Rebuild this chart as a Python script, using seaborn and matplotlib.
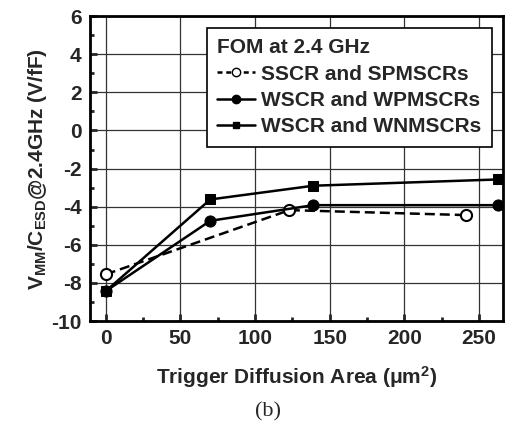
import matplotlib
matplotlib.use("Agg")
import matplotlib.pyplot as plt
import seaborn as sns
import pandas as pd
from matplotlib.ticker import MultipleLocator
from matplotlib.lines import Line2D

sns.set_theme(style="ticks")
plt.rcParams['font.family'] = ['Liberation Sans', 'DejaVu Sans']
plt.rcParams['font.weight'] = 'bold'
plt.rcParams['axes.unicode_minus'] = False
plt.rcParams['mathtext.fontset'] = 'custom'
plt.rcParams['mathtext.rm'] = 'Liberation Sans:bold'
plt.rcParams['mathtext.it'] = 'Liberation Sans:bold'
plt.rcParams['mathtext.bf'] = 'Liberation Sans:bold'
plt.rcParams['mathtext.default'] = 'rm'

# Data
ss_x = [0, 123, 241]
ss_y = [-7.55, -4.18, -4.44]
wp_x = [0, 70, 139, 263]
wp_y = [-8.43, -4.74, -3.92, -3.92]
wn_x = [0, 70, 139, 263]
wn_y = [-8.43, -3.62, -2.9, -2.57]
labels = ["SSCR and SPMSCRs", "WSCR and WPMSCRs", "WSCR and WNMSCRs"]

fig = plt.figure(figsize=(5.06, 4.23), dpi=100)
ax = fig.add_axes([0.178, 0.241, 0.816, 0.721])

df_ss = pd.DataFrame({"x": ss_x, "y": ss_y})
df_wp = pd.DataFrame({"x": wp_x, "y": wp_y})
df_wn = pd.DataFrame({"x": wn_x, "y": wn_y})

sns.lineplot(data=df_ss, x="x", y="y", ax=ax, color="black", lw=1.8,
             linestyle=(0, (4, 2)), marker="o", markersize=8,
             markerfacecolor="white", markeredgecolor="black", markeredgewidth=1.5,
             sort=False, zorder=3)
sns.lineplot(data=df_wp, x="x", y="y", ax=ax, color="black", lw=1.8,
             marker="o", markersize=8, markerfacecolor="black",
             markeredgecolor="black", sort=False, zorder=4)
sns.lineplot(data=df_wn, x="x", y="y", ax=ax, color="black", lw=1.8,
             marker="s", markersize=7, markerfacecolor="black",
             markeredgecolor="black", sort=False, zorder=4)

ax.set_xlim(-10.5, 266)
ax.set_ylim(-10, 6)
ax.xaxis.set_major_locator(MultipleLocator(50))
ax.xaxis.set_minor_locator(MultipleLocator(25))
ax.yaxis.set_major_locator(MultipleLocator(2))
ax.yaxis.set_minor_locator(MultipleLocator(1))
ax.grid(True, which="major", color="#333333", lw=0.9)
ax.tick_params(which="major", direction="in", length=5, width=2,
               labelsize=15, top=False, right=False, pad=6)
ax.tick_params(which="minor", direction="in", length=3, width=2,
               top=False, right=False)
for lab in ax.get_xticklabels() + ax.get_yticklabels():
    lab.set_fontweight("bold")
for s in ax.spines.values():
    s.set_linewidth(2)
    s.set_color("black")

ax.set_xlabel("Trigger Diffusion Area (μm$^{2}$)", fontsize=15, fontweight="bold", labelpad=11)
ax.set_ylabel(r"V$_{\mathregular{MM}}$/C$_{\mathregular{ESD}}$@2.4GHz (V/fF)",
              fontsize=15, fontweight="bold", labelpad=2)

handles = [
    Line2D([], [], color="black", lw=1.8, linestyle=(0, (2, 1.5)), marker="o",
           markersize=6, markerfacecolor="white", markeredgecolor="black"),
    Line2D([], [], color="black", lw=1.8, marker="o", markersize=6,
           markerfacecolor="black"),
    Line2D([], [], color="black", lw=1.8, marker="s", markersize=5,
           markerfacecolor="black"),
]
leg = ax.legend(handles, labels, title="FOM at 2.4 GHz", loc="upper right",
                bbox_to_anchor=(0.973, 0.961), frameon=True, fancybox=False,
                edgecolor="black", framealpha=1, fontsize=15,
                title_fontproperties={"weight": "bold", "size": 15},
                handlelength=1.8, handletextpad=0.3, borderpad=0.5,
                labelspacing=0.35, borderaxespad=0)
leg._legend_box.align = "left"
leg.get_frame().set_linewidth(1.2)
for t in leg.get_texts():
    t.set_fontweight("bold")

fig.text(0.53, 0.026, "(b)", ha="center", va="center", fontsize=16,
         family="Liberation Serif", fontweight="normal")

fig.savefig("out.png", dpi=100)
